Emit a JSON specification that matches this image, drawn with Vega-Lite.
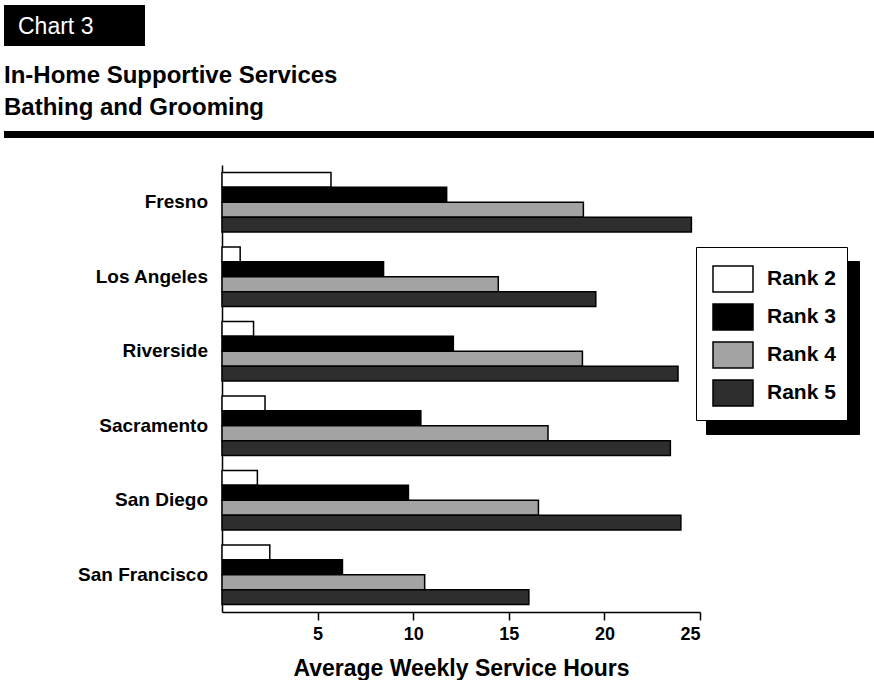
{
  "$schema": "https://vega.github.io/schema/vega-lite/v6.json",
  "background": "white",
  "padding": {"left": 4, "top": 5, "right": 0, "bottom": 0},
  "config": {
    "view": {"stroke": null},
    "font": "Liberation Sans, Arial, Helvetica, sans-serif"
  },
  "datasets": {
    "hours": [
      {"county": "Fresno", "rank": "Rank 2", "hours": 5.7},
      {"county": "Fresno", "rank": "Rank 3", "hours": 11.75},
      {"county": "Fresno", "rank": "Rank 4", "hours": 18.9},
      {"county": "Fresno", "rank": "Rank 5", "hours": 24.55},
      {"county": "Los Angeles", "rank": "Rank 2", "hours": 0.95},
      {"county": "Los Angeles", "rank": "Rank 3", "hours": 8.45},
      {"county": "Los Angeles", "rank": "Rank 4", "hours": 14.45},
      {"county": "Los Angeles", "rank": "Rank 5", "hours": 19.55},
      {"county": "Riverside", "rank": "Rank 2", "hours": 1.65},
      {"county": "Riverside", "rank": "Rank 3", "hours": 12.1},
      {"county": "Riverside", "rank": "Rank 4", "hours": 18.85},
      {"county": "Riverside", "rank": "Rank 5", "hours": 23.85},
      {"county": "Sacramento", "rank": "Rank 2", "hours": 2.25},
      {"county": "Sacramento", "rank": "Rank 3", "hours": 10.4},
      {"county": "Sacramento", "rank": "Rank 4", "hours": 17.05},
      {"county": "Sacramento", "rank": "Rank 5", "hours": 23.45},
      {"county": "San Diego", "rank": "Rank 2", "hours": 1.85},
      {"county": "San Diego", "rank": "Rank 3", "hours": 9.75},
      {"county": "San Diego", "rank": "Rank 4", "hours": 16.55},
      {"county": "San Diego", "rank": "Rank 5", "hours": 24.0},
      {"county": "San Francisco", "rank": "Rank 2", "hours": 2.5},
      {"county": "San Francisco", "rank": "Rank 3", "hours": 6.3},
      {"county": "San Francisco", "rank": "Rank 4", "hours": 10.6},
      {"county": "San Francisco", "rank": "Rank 5", "hours": 16.05}
    ]
  },
  "spacing": 18,
  "resolve": {"legend": {"fill": "independent", "stroke": "independent"}},
  "vconcat": [
    {
      "width": 141,
      "height": 41,
      "data": {"values": [{"label": "Chart 3"}]},
      "layer": [
        {"mark": {"type": "rect", "color": "black"}, "encoding": {}},
        {
          "mark": {"type": "text", "color": "white", "fontSize": 23, "align": "left", "baseline": "middle", "font": "Liberation Sans, Arial, sans-serif"},
          "encoding": {"text": {"field": "label"}, "x": {"value": 14}, "y": {"value": 22}}
        }
      ]
    },
    {
      "spacing": 27,
      "resolve": {"legend": {"fill": "independent", "stroke": "independent"}},
      "vconcat": [
        {
          "width": 870,
          "height": 7,
          "title": {
            "text": ["In-Home Supportive Services", "Bathing and Grooming"],
            "anchor": "start",
            "font": "Liberation Sans, Arial, Helvetica, sans-serif",
            "fontSize": 24,
            "fontWeight": "bold",
            "lineHeight": 32,
            "offset": 11,
            "color": "black"
          },
          "data": {"values": [{"band": "rule"}]},
          "mark": {"type": "rect", "color": "black"},
          "encoding": {}
        },
        {
          "spacing": 13,
          "data": {"name": "hours"},
          "resolve": {"legend": {"fill": "independent", "stroke": "independent"}},
          "hconcat": [
            {
              "width": 204,
              "height": 447,
              "transform": [{"aggregate": [], "groupby": ["county"]}],
              "mark": {"type": "text", "align": "right", "baseline": "middle", "fontSize": 19, "fontWeight": "bold", "color": "black"},
              "encoding": {
                "y": {"field": "county", "type": "nominal", "sort": ["Fresno", "Los Angeles", "Riverside", "Sacramento", "San Diego", "San Francisco"], "scale": {"paddingInner": 0.2, "paddingOuter": 0.1}, "axis": null},
                "x": {"value": "width"},
                "text": {"field": "county"}
              }
            },
            {
              "width": 478,
              "height": 447,
              "mark": {"type": "bar", "strokeWidth": 1.5},
              "encoding": {
                "y": {
                  "field": "county",
                  "type": "nominal",
                  "sort": ["Fresno", "Los Angeles", "Riverside", "Sacramento", "San Diego", "San Francisco"],
                  "scale": {"paddingInner": 0.2, "paddingOuter": 0.1},
                  "axis": {
                    "title": null,
                    "ticks": false,
                    "labels": false,
                    "domainColor": "black",
                    "domainWidth": 1.5,
                    "minExtent": 0,
                    "maxExtent": 0
                  }
                },
                "yOffset": {"field": "rank", "type": "nominal", "scale": {"paddingInner": 0, "paddingOuter": 0}},
                "x": {
                  "field": "hours",
                  "type": "quantitative",
                  "scale": {"domain": [0, 25], "nice": false},
                  "axis": {
                    "title": "Average Weekly Service Hours",
                    "titleFontSize": 23,
                    "titleFontWeight": "bold",
                    "titleColor": "black",
                    "titlePadding": 14,
                    "values": [5, 10, 15, 20, 25],
                    "grid": false,
                    "domainColor": "black",
                    "domainWidth": 1.5,
                    "tickColor": "black",
                    "tickWidth": 1.5,
                    "tickSize": 8,
                    "labelFontSize": 18,
                    "labelFontWeight": "bold",
                    "labelColor": "black",
                    "labelPadding": 5
                  }
                },
                "fill": {
                  "field": "rank",
                  "type": "nominal",
                  "scale": {"range": ["#ffffff", "#000000", "#a3a3a3", "#2e2e2e"]},
                  "legend": {
                    "title": null,
                    "orient": "none",
                    "legendX": 474,
                    "legendY": 82,
                    "fillColor": "white",
                    "strokeColor": "black",
                    "padding": 11,
                    "symbolOffset": 5,
                    "symbolType": "M-1,-0.65H1V0.65H-1Z",
                    "symbolSize": 1600,
                    "symbolStrokeColor": "black",
                    "symbolStrokeWidth": 1.5,
                    "labelFontSize": 21,
                    "labelFontWeight": "bold",
                    "labelColor": "black",
                    "labelOffset": 13,
                    "rowPadding": 1,
                    "zindex": 2
                  }
                },
                "stroke": {
                  "field": "rank",
                  "type": "nominal",
                  "scale": {"domain": ["Rank 2", "Rank 3", "Rank 4", "Rank 5"], "range": ["#000000", "#000000", "#000000", "#000000"]},
                  "legend": {
                    "title": null,
                    "orient": "none",
                    "legendX": 484,
                    "legendY": 96,
                    "fillColor": "black",
                    "strokeColor": "black",
                    "padding": 11,
                    "symbolOffset": 87,
                    "symbolType": "M-1,-0.65H1V0.65H-1Z",
                    "symbolSize": 1600,
                    "symbolFillColor": "black",
                    "symbolStrokeWidth": 1.5,
                    "labelExpr": "''",
                    "labelFontSize": 21,
                    "labelFontWeight": "bold",
                    "labelColor": "black",
                    "labelOffset": 0,
                    "rowPadding": 1,
                    "zindex": 1
                  }
                }
              }
            }
          ]
        }
      ]
    }
  ]
}
